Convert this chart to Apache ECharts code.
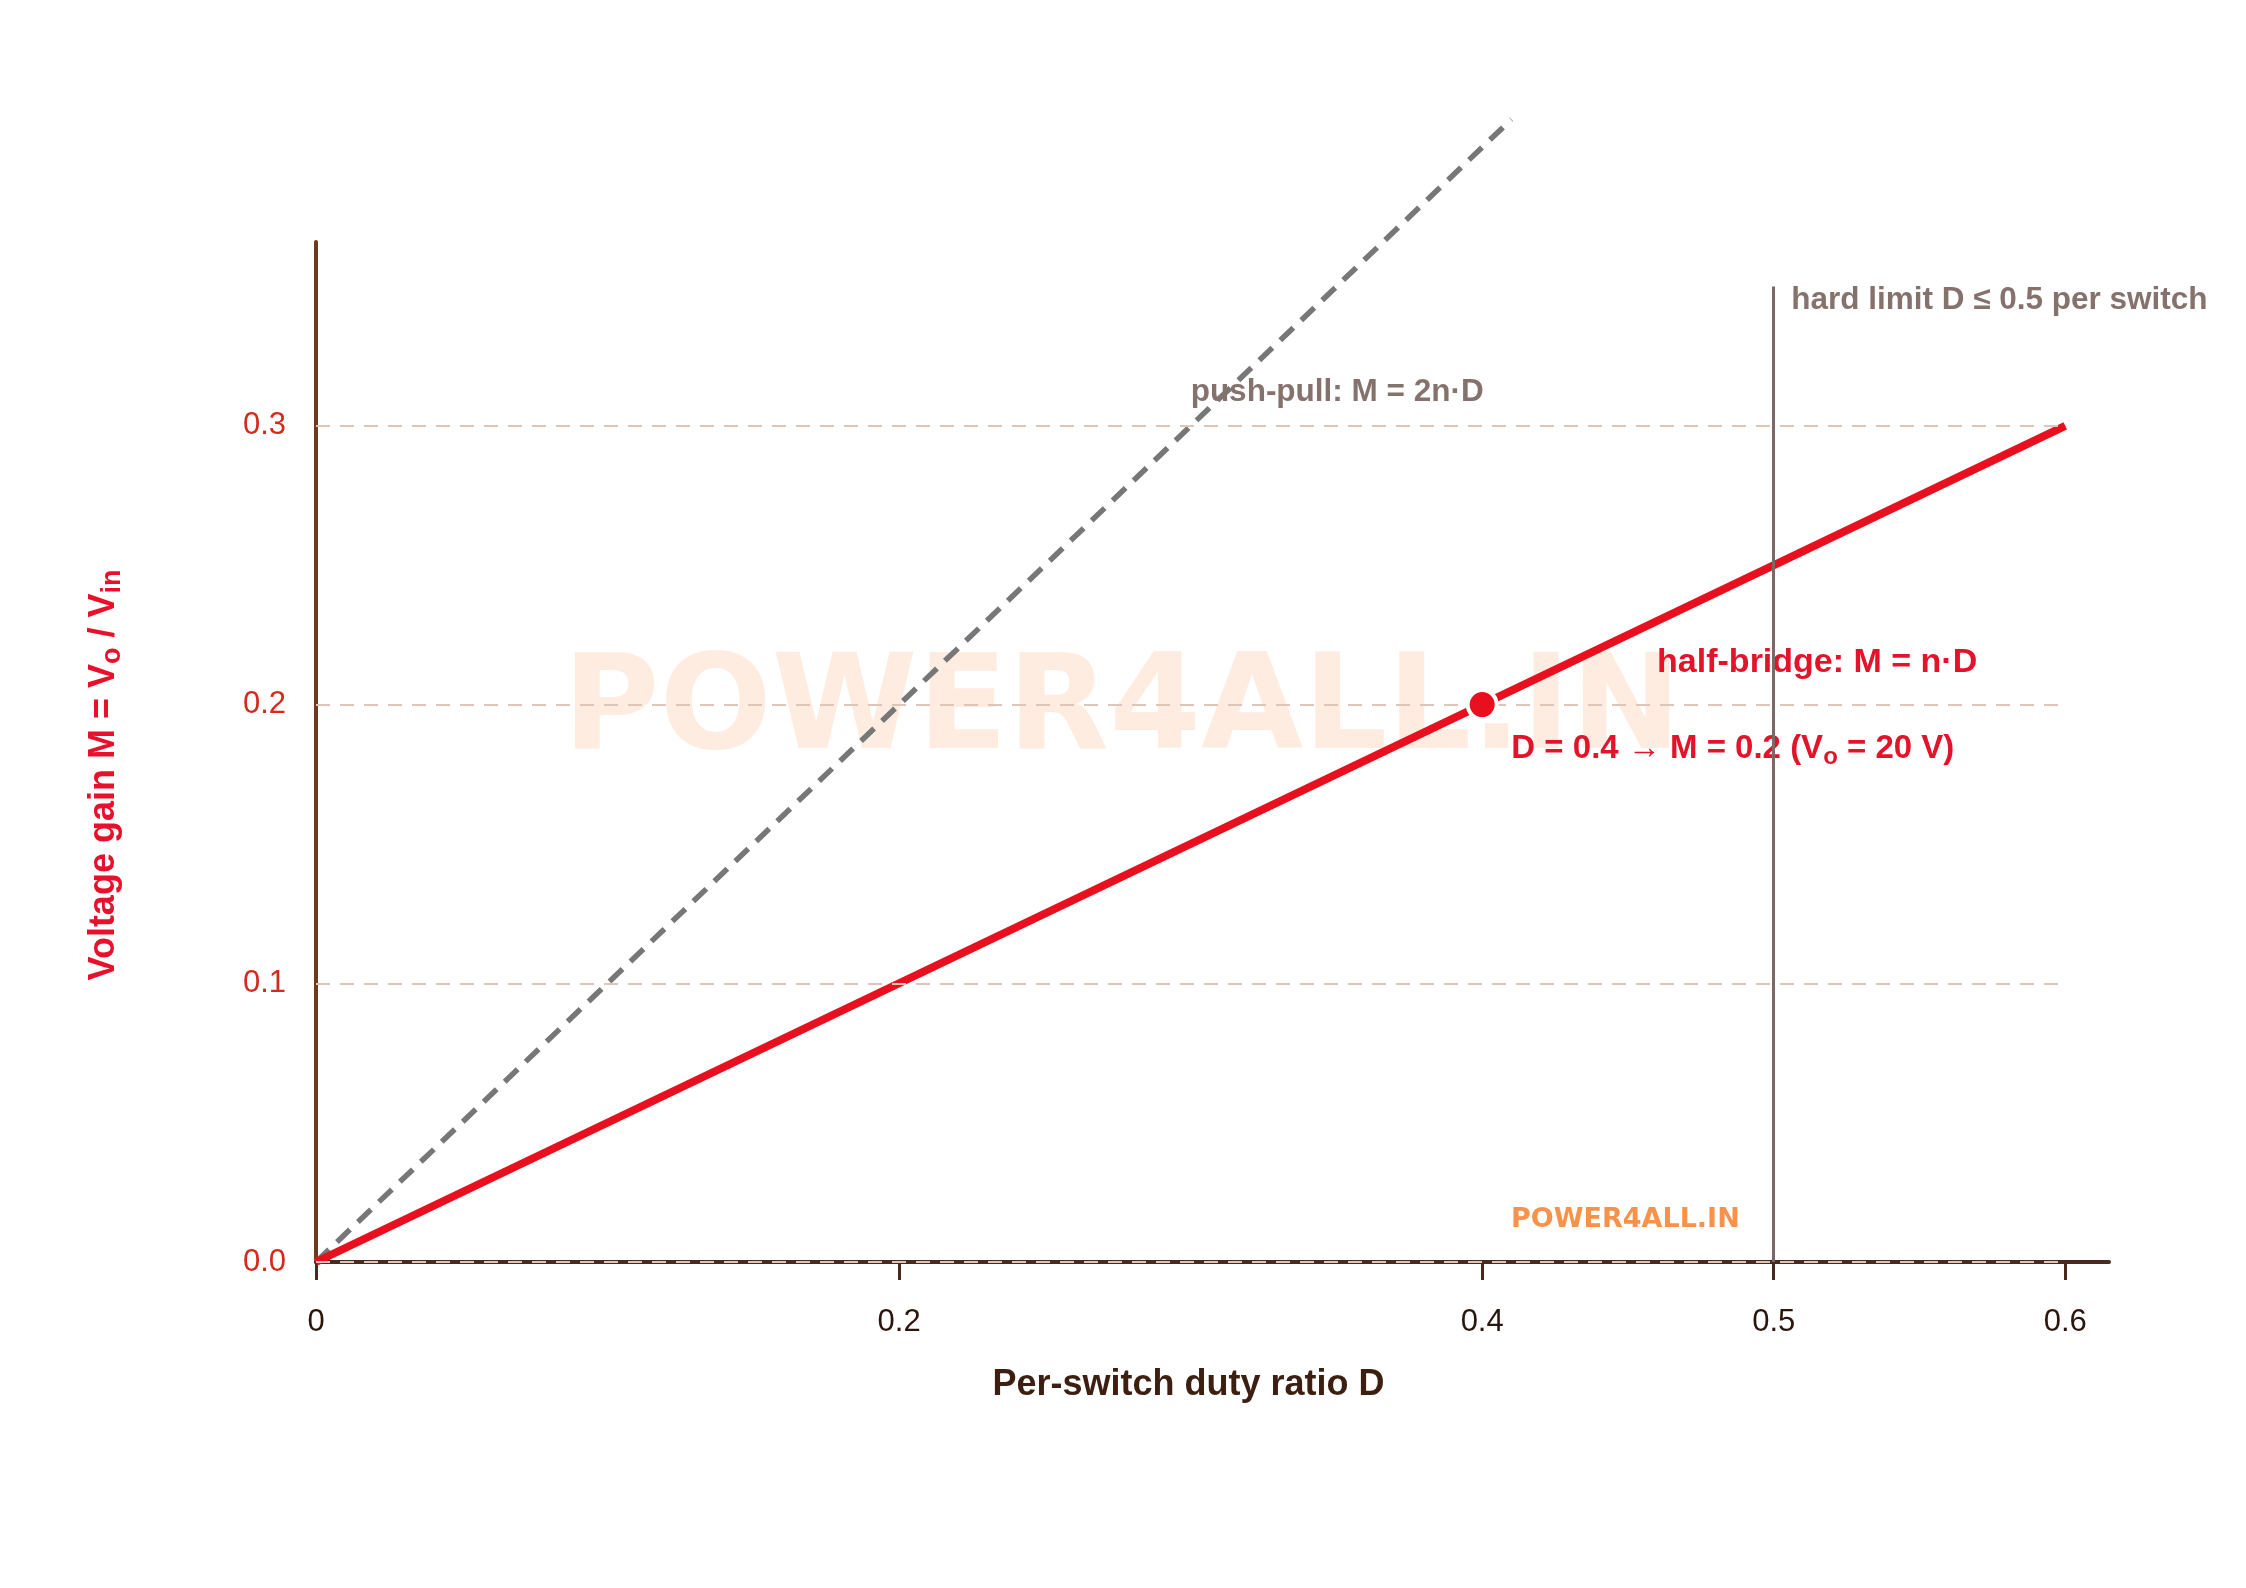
<!DOCTYPE html>
<html><head><meta charset="utf-8">
<script src="https://cdn.jsdelivr.net/npm/echarts@6/dist/echarts.min.js"></script>
<style>html,body{margin:0;padding:0;background:#fff}#c{width:2246px;height:1588px}</style>
</head><body><div id="c"></div>
<script>
// ---- data ----
const dutyTicks = [0, 0.2, 0.4, 0.5, 0.6];
const gainTicks = [0, 0.1, 0.2, 0.3];
const halfBridgeD = [0, 0.6];
const halfBridgeM = [0, 0.3];
const pushPullD = [0, 0.41];
const pushPullM = [0, 0.41];
const operatingPoint = [0.4, 0.2];
const hardLimitD = 0.5;
const hardLimitTop = 0.35;
const gridLevels = [0, 0.1, 0.2, 0.3];
const gridLineEnd = 0.6;
const xMax = 0.615;
const yMax = 0.366;
const annoText = ['push-pull: M = 2n·D', 'half-bridge: M = n·D', 'D = 0.4 → M = 0.2 (V{s|o} = 20 V)', 'hard limit D ≤ 0.5 per switch'];
const annoD = [0.3, 0.46, 0.41, 0.506];
const annoM = [0.312, 0.215, 0.184, 0.345];
const annoColor = ['#86726c', '#e3132a', '#e3132a', '#86726c'];
const annoSize = [31.5, 34, 33, 31.5];

const FONT = '"Liberation Sans", Arial, sans-serif';
const chart = echarts.init(document.getElementById('c'), null, {renderer: 'canvas'});

const option = {
  backgroundColor: '#ffffff',
  animation: false,
  grid: {left: 316, right: 137, top: 242, bottom: 326, containLabel: false},
  xAxis: {
    type: 'value', min: 0, max: xMax,
    name: 'Per-switch duty ratio D', nameLocation: 'middle', nameGap: 105,
    nameTextStyle: {fontFamily: FONT, fontSize: 36, fontWeight: 'bold', color: '#3d1f12', padding: [0, 48, 0, 0]},
    axisLine: {show: true, onZero: false, lineStyle: {color: '#4a2a1f', width: 4}},
    axisTick: {show: true, customValues: dutyTicks, length: 18, lineStyle: {color: '#4a2a1f', width: 3}},
    axisLabel: {customValues: dutyTicks, margin: 45, fontFamily: FONT, fontSize: 31, color: '#2a160c',
      formatter: v => v === 0 ? '0' : String(v)},
    splitLine: {show: false}
  },
  yAxis: {
    type: 'value', min: 0, max: yMax,
    name: 'Voltage gain M = V{s|o} / V{s|in}', nameLocation: 'middle', nameGap: 190,
    nameTextStyle: {fontFamily: FONT, fontSize: 36, fontWeight: 'bold', color: '#e8102a', padding: [0, 46, 0, 0],
      rich: {s: {fontFamily: FONT, fontSize: 27, fontWeight: 'bold', color: '#e8102a', padding: [16, 0, 0, 0]}}},
    axisLine: {show: true, onZero: false, lineStyle: {color: '#6b3a1f', width: 4}},
    axisTick: {show: false},
    axisLabel: {customValues: gainTicks, margin: 30, fontFamily: FONT, fontSize: 31, color: '#d42a1c',
      formatter: v => v.toFixed(1)},
    splitLine: {show: false}
  },
  series: [
    {
      type: 'line', name: 'grid', data: [], silent: true, z: 1,
      markLine: {
        silent: true, symbol: ['none', 'none'], animation: false,
        label: {show: false},
        lineStyle: {color: '#dfc4b8', width: 2, type: [14, 10]},
        emphasis: {disabled: true},
        data: gridLevels.map(v => [{coord: [0, v]}, {coord: [gridLineEnd, v]}])
      }
    },
    {
      type: 'line', name: 'push-pull', data: pushPullD.map((d, i) => [d, pushPullM[i]]),
      showSymbol: false, clip: false, z: 3,
      lineStyle: {color: '#777777', width: 5.5, type: [18, 11]}
    },
    {
      type: 'line', name: 'half-bridge', data: halfBridgeD.map((d, i) => [d, halfBridgeM[i]]),
      showSymbol: false, z: 4,
      lineStyle: {color: '#e8101e', width: 8}
    },
    {
      type: 'scatter', name: 'operating point', data: [operatingPoint], z: 5,
      symbolSize: 29,
      itemStyle: {color: '#e8101e', borderColor: '#ffffff', borderWidth: 4, opacity: 1}
    },
    {
      type: 'line', name: 'limit', data: [], silent: true, z: 6,
      markLine: {
        silent: true, symbol: ['none', 'none'], animation: false,
        label: {show: false},
        lineStyle: {color: '#7d6868', width: 3, type: 'solid'},
        emphasis: {disabled: true},
        data: [[{coord: [hardLimitD, 0]}, {coord: [hardLimitD, hardLimitTop]}]]
      }
    }
  ]
};
chart.setOption(option);

const graphics = [
  {type: 'text', z: 0, silent: true, style: {text: 'POWER4ALL.IN', x: 1122, y: 714, align: 'center', verticalAlign: 'middle',
    font: 'bold 132px "DejaVu Sans", sans-serif', fill: 'rgba(248,140,80,0.17)'}},
  {type: 'text', z: 10, silent: true, style: {text: 'POWER4ALL.IN', x: 1511, y: 1220, align: 'left', verticalAlign: 'middle',
    font: 'bold 27px "DejaVu Sans", sans-serif', fill: '#f7924a'}}
];
annoText.forEach((t, i) => {
  const p = chart.convertToPixel({gridIndex: 0}, [annoD[i], annoM[i]]);
  graphics.push({type: 'text', z: i === 1 || i === 2 ? 1 : 10, silent: true,
    style: {text: t, x: p[0], y: p[1], align: 'left', verticalAlign: 'middle',
      font: 'bold ' + annoSize[i] + 'px ' + FONT, fill: annoColor[i],
      rich: {s: {fontFamily: FONT, fontSize: 24, fontWeight: 'bold', fill: annoColor[i], padding: [16, 0, 0, 0]}}}});
});
chart.setOption({graphic: {elements: graphics}});
</script></body></html>
